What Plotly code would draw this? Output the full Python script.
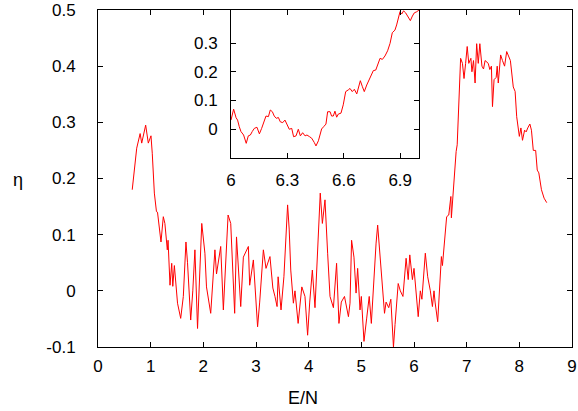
import plotly.graph_objects as go

# Main curve: E/N vs eta
main_x = [0.65, 0.735, 0.80, 0.83, 0.905, 0.955, 1.006, 1.03, 1.07, 1.11, 1.13, 1.196, 1.24, 1.27, 1.316,
          1.33, 1.367, 1.40, 1.42, 1.45, 1.51, 1.57, 1.62, 1.67, 1.70, 1.76, 1.80, 1.84, 1.89, 1.97,
          2.03, 2.06, 2.14, 2.22, 2.25, 2.33, 2.38, 2.47, 2.52, 2.595, 2.63, 2.71, 2.76, 2.855, 2.88,
          2.95, 3.03, 3.07, 3.14, 3.19, 3.265, 3.32, 3.36, 3.40, 3.42, 3.475, 3.53, 3.60, 3.63, 3.66,
          3.71, 3.74, 3.80, 3.87, 3.93, 3.98, 4.02, 4.07, 4.12, 4.17, 4.22, 4.26, 4.31, 4.36, 4.405,
          4.47, 4.53, 4.575, 4.62, 4.68, 4.755, 4.785, 4.815, 4.86, 4.90, 4.93, 4.975, 5.0, 5.05, 5.10,
          5.15, 5.19, 5.24, 5.28, 5.31, 5.36, 5.39, 5.44, 5.47, 5.52, 5.56, 5.61, 5.64, 5.70, 5.74,
          5.79, 5.85, 5.89, 5.92, 5.97, 6.0, 6.08, 6.12, 6.15, 6.215, 6.26, 6.31, 6.35, 6.38, 6.40,
          6.45, 6.49, 6.52, 6.54, 6.62, 6.66, 6.70, 6.71, 6.76, 6.80, 6.82, 6.86, 6.885, 6.92, 6.95,
          6.98, 7.01, 7.04, 7.08, 7.10, 7.13, 7.16, 7.19, 7.22, 7.25, 7.29, 7.32, 7.35, 7.41, 7.44,
          7.47, 7.49, 7.52, 7.56, 7.58, 7.60, 7.645, 7.68, 7.72, 7.76, 7.80, 7.83, 7.885, 7.92, 7.95,
          8.0, 8.03, 8.06, 8.10, 8.13, 8.16, 8.20, 8.23, 8.265, 8.31, 8.34, 8.37, 8.42, 8.47, 8.52]
main_y = [0.18, 0.254, 0.28, 0.263, 0.295, 0.263, 0.276, 0.245, 0.174, 0.141, 0.14, 0.087, 0.132, 0.12, 0.073,
          0.09, 0.01, 0.049, 0.008, 0.045, -0.022, -0.049, -0.01, 0.087, 0.05, -0.052, 0.0, 0.073, -0.067, 0.12,
          0.067, 0.007, -0.04, 0.073, 0.03, 0.079, -0.034, 0.135, 0.12, -0.04, 0.096, -0.028, 0.06, 0.079, 0.01,
          0.055, -0.064, -0.02, 0.073, 0.04, 0.061, 0.005, -0.01, -0.028, 0.025, -0.034, 0.025, 0.153, 0.11, 0.037,
          -0.022, 0.0, -0.058, 0.007, -0.01, -0.079, -0.02, 0.037, -0.03, 0.061, 0.174, 0.12, 0.162, 0.067, -0.01,
          -0.03, 0.049, -0.058, -0.02, -0.01, -0.046, -0.022, 0.09, 0.06, -0.004, 0.04, -0.034, -0.01, -0.09, -0.05,
          -0.01, -0.058, 0.034, 0.085, 0.117, 0.05, 0.013, -0.04, -0.02, -0.03, -0.015, -0.1, -0.06, 0.013, 0.0,
          -0.01, 0.058, 0.02, 0.064, 0.02, 0.04, -0.046, 0.0, -0.015, 0.067, 0.025, 0.0, -0.028, 0.0, -0.02,
          -0.055, 0.007, 0.061, 0.045, 0.132, 0.135, 0.168, 0.13, 0.206, 0.248, 0.26, 0.346, 0.414, 0.405, 0.378,
          0.405, 0.435, 0.405, 0.414, 0.39, 0.41, 0.37, 0.44, 0.405, 0.44, 0.40, 0.395, 0.41, 0.405, 0.394,
          0.40, 0.328, 0.376, 0.38, 0.40, 0.37, 0.42, 0.41, 0.40, 0.426, 0.418, 0.41, 0.363, 0.355, 0.31,
          0.275, 0.29, 0.268, 0.286, 0.283, 0.29, 0.297, 0.286, 0.25, 0.25, 0.215, 0.21, 0.18, 0.165, 0.157]

# Inset curve (zoom of 6 <= E/N <= 7)
inset_x = [6.0, 6.014, 6.027, 6.035, 6.044, 6.053, 6.067, 6.081, 6.092, 6.103, 6.113, 6.124, 6.138, 6.151,
           6.163, 6.174, 6.186, 6.199, 6.209, 6.22, 6.23, 6.241, 6.252, 6.262, 6.275, 6.287, 6.298, 6.31,
           6.323, 6.333, 6.346, 6.358, 6.369, 6.381, 6.394, 6.404, 6.418, 6.429, 6.443, 6.452, 6.465, 6.475,
           6.482, 6.493, 6.505, 6.514, 6.527, 6.535, 6.544, 6.553, 6.562, 6.571, 6.585, 6.597, 6.61, 6.624,
           6.633, 6.645, 6.656, 6.669, 6.677, 6.688, 6.699, 6.709, 6.722, 6.734, 6.745, 6.757, 6.77, 6.784,
           6.793, 6.805, 6.819, 6.833, 6.846, 6.858, 6.872, 6.881, 6.89, 6.899, 6.908, 6.918, 6.929, 6.94,
           6.954, 6.965, 6.975, 6.988, 7.0]
inset_y = [0.032, 0.07, 0.04, 0.032, 0.009, -0.008, -0.02, -0.049, -0.023, -0.02, -0.008, 0.003, 0.007, -0.016,
           0.003, 0.023, 0.046, 0.044, 0.067, 0.061, 0.046, 0.038, 0.041, 0.026, 0.023, 0.032, 0.014, 0.0,
           0.003, -0.026, -0.023, 0.0, -0.023, -0.012, -0.023, -0.02, -0.026, -0.031, -0.046, -0.058, -0.04, -0.016,
           0.001, 0.009, 0.018, 0.061, 0.061, 0.046, 0.046, 0.063, 0.042, 0.053, 0.056, 0.085, 0.131, 0.137,
           0.142, 0.131, 0.139, 0.123, 0.142, 0.169, 0.148, 0.131, 0.154, 0.171, 0.183, 0.204, 0.206, 0.23,
           0.247, 0.243, 0.255, 0.273, 0.299, 0.336, 0.345, 0.363, 0.39, 0.409, 0.401, 0.412, 0.405, 0.392,
           0.378, 0.394, 0.405, 0.409, 0.415]

main_xticks = [0, 1, 2, 3, 4, 5, 6, 7, 8, 9]
main_yticks = [-0.1, 0, 0.1, 0.2, 0.3, 0.4, 0.5]
main_yticklabels = ["-0.1", "0", "0.1", "0.2", "0.3", "0.4", "0.5"]
inset_xticks = [6, 6.3, 6.6, 6.9]
inset_xticklabels = ["6", "6.3", "6.6", "6.9"]
inset_yticks = [0, 0.1, 0.2, 0.3]
inset_yticklabels = ["0", "0.1", "0.2", "0.3"]
x_title = "E/N"
y_title = "η"

FONT = "Liberation Sans, Arial, Helvetica, sans-serif"
RED = "#ff0000"

fig = go.Figure()
fig.add_trace(go.Scatter(x=main_x, y=main_y, mode="lines",
                         line=dict(color=RED, width=1), xaxis="x", yaxis="y",
                         showlegend=False, hoverinfo="skip"))
fig.add_trace(go.Scatter(x=inset_x, y=inset_y, mode="lines",
                         line=dict(color=RED, width=1), xaxis="x2", yaxis="y2",
                         showlegend=False, hoverinfo="skip"))

axis_common = dict(showline=True, linecolor="black", linewidth=1, mirror="allticks",
                   ticks="inside", ticklen=5, tickcolor="black", showgrid=False,
                   zeroline=False, automargin=False,
                   tickfont=dict(family=FONT, size=17, color="black"))

x0, x1 = 98, 572
y0, y1 = 10, 347
W, H = 578, 411
pw, ph = x1 - x0, y1 - y0

ins_x = [(231 - x0) / pw, (419 - x0) / pw]
ins_y = [(y1 - 158) / ph, 1.0]

fig.update_layout(
    width=W, height=H,
    margin=dict(l=x0, r=W - x1, t=y0, b=H - y1, autoexpand=False),
    paper_bgcolor="white", plot_bgcolor="white",
    font=dict(family=FONT, size=17, color="black"),
    xaxis=dict(range=[0, 9], tickvals=main_xticks, domain=[0, 1],
               ticklabelstandoff=4, **axis_common),
    yaxis=dict(range=[-0.1, 0.5], tickvals=main_yticks, ticktext=main_yticklabels, domain=[0, 1],
               ticklabelstandoff=18, **axis_common),
    xaxis2=dict(range=[6, 7], tickvals=inset_xticks, ticktext=inset_xticklabels,
                domain=ins_x, anchor="y2", ticklabelstandoff=7, **axis_common),
    yaxis2=dict(range=[-0.1, 0.415], tickvals=inset_yticks, ticktext=inset_yticklabels,
                domain=ins_y, anchor="x2", ticklabelstandoff=9, **axis_common),
    annotations=[
        dict(text=x_title, x=(302.8 - x0) / pw, y=(y1 - 397.7) / ph, xref="paper", yref="paper",
             showarrow=False, xanchor="center", yanchor="middle",
             font=dict(family=FONT, size=18, color="black")),
        dict(text=y_title, x=(18 - x0) / pw, y=(y1 - 180) / ph, xref="paper", yref="paper",
             showarrow=False, xanchor="center", yanchor="middle",
             font=dict(family=FONT, size=18, color="black")),
    ],
)

fig.write_html("out.html", config={"displayModeBar": False},
               post_script="document.body.style.margin='0';")
